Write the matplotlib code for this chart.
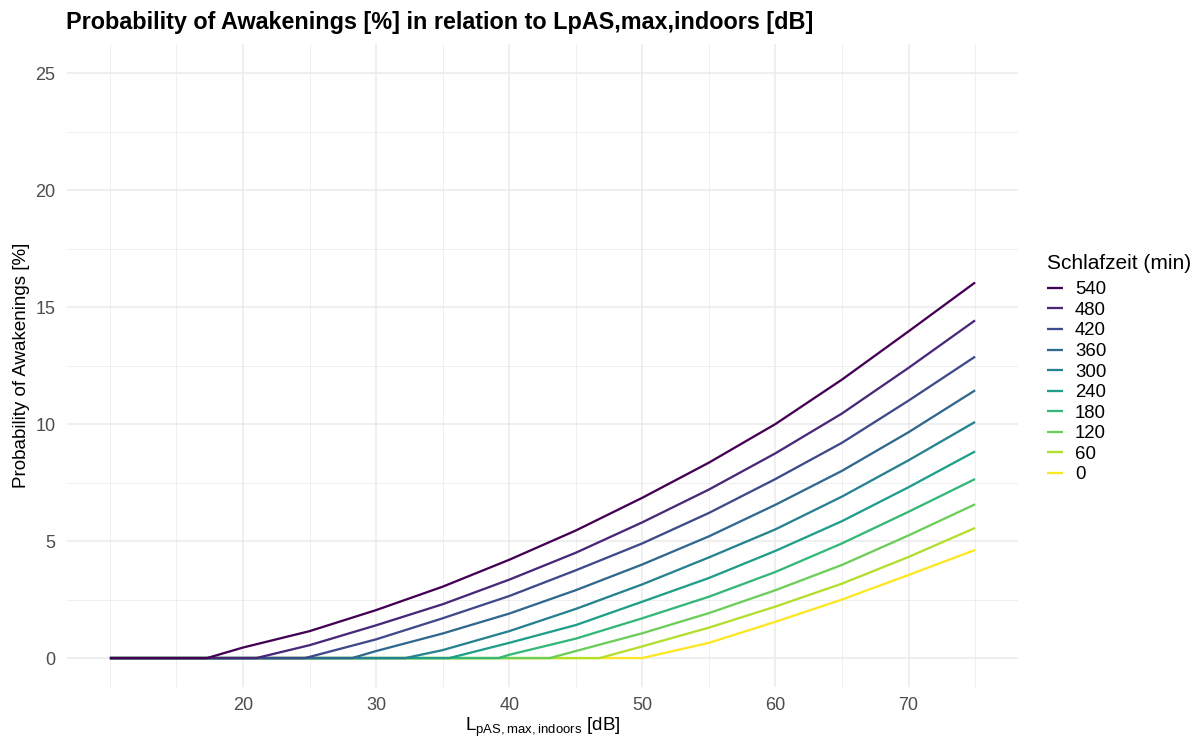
import matplotlib
matplotlib.use("Agg")
import matplotlib.pyplot as plt

plt.rcParams["font.family"] = ["Liberation Sans", "DejaVu Sans"]
plt.rcParams["mathtext.fontset"] = "custom"
plt.rcParams["mathtext.rm"] = "Liberation Sans"

# Sound level grid (dB) shared by all curves
level_db = [10, 15, 20, 25, 30, 35, 40, 45, 50, 55, 60, 65, 70, 75]

# Sleep time groups (minutes), top of legend first
sleep_min = [540, 480, 420, 360, 300, 240, 180, 120, 60, 0]

# Level where each curve leaves zero
onset_db = [17.3, 21.0, 24.65, 28.2, 32.2, 35.5, 39.2, 43.05, 46.8, 50.0]

# Awakening probability (%) at each grid level (0 below onset)
p_540 = [0, 0, 0.45, 1.15, 2.05, 3.05, 4.2, 5.45, 6.85, 8.35, 10.0, 11.9, 13.96, 16.05]
p_480 = [0, 0, 0, 0.55, 1.4, 2.3, 3.35, 4.5, 5.8, 7.2, 8.75, 10.45, 12.4, 14.43]
p_420 = [0, 0, 0, 0.05, 0.8, 1.7, 2.65, 3.75, 4.9, 6.2, 7.65, 9.2, 11.0, 12.88]
p_360 = [0, 0, 0, 0, 0.3, 1.05, 1.9, 2.9, 4.0, 5.2, 6.55, 8.0, 9.65, 11.44]
p_300 = [0, 0, 0, 0, 0, 0.34, 1.15, 2.1, 3.15, 4.3, 5.5, 6.9, 8.45, 10.09]
p_240 = [0, 0, 0, 0, 0, 0, 0.65, 1.41, 2.41, 3.42, 4.58, 5.85, 7.3, 8.83]
p_180 = [0, 0, 0, 0, 0, 0, 0.14, 0.83, 1.70, 2.62, 3.68, 4.9, 6.25, 7.65]
p_120 = [0, 0, 0, 0, 0, 0, 0, 0.3, 1.06, 1.92, 2.9, 3.98, 5.24, 6.57]
p_60 = [0, 0, 0, 0, 0, 0, 0, 0, 0.5, 1.3, 2.2, 3.18, 4.32, 5.56]
p_0 = [0, 0, 0, 0, 0, 0, 0, 0, 0, 0.65, 1.55, 2.5, 3.55, 4.62]

curves = [p_540, p_480, p_420, p_360, p_300, p_240, p_180, p_120, p_60, p_0]

colors = ["#440154", "#482878", "#3E4A89", "#31688E", "#26828E",
          "#1F9E89", "#35B779", "#6DCD59", "#B4DE2C", "#FDE725"]

fig = plt.figure(figsize=(12.01, 7.42), dpi=100)
ax = fig.add_axes([0.0555, 0.0737, 0.7924, 0.8673])

# Draw from 0 min upward so darker curves sit on top at the zero baseline
for name, onset, vals, col in reversed(list(zip(sleep_min, onset_db, curves, colors))):
    xs = [level_db[0], onset]
    ys = [0.0, 0.0]
    for x, y in zip(level_db, vals):
        if x > onset:
            xs.append(x)
            ys.append(y)
    ax.plot(xs, ys, color=col, lw=1.65, label=str(name), solid_capstyle="butt")

ax.set_xlim(6.75, 78.25)
ax.set_ylim(-1.25, 26.25)
ax.set_xticks([20, 30, 40, 50, 60, 70])
ax.set_xticks([10, 15, 25, 35, 45, 55, 65, 75], minor=True)
ax.set_yticks([0, 5, 10, 15, 20, 25])
ax.set_yticks([2.5, 7.5, 12.5, 17.5, 22.5], minor=True)

ax.grid(which="major", color="#EBEBEB", lw=1.1)
ax.grid(which="minor", color="#EBEBEB", lw=0.55)
ax.set_axisbelow(True)
for s in ax.spines.values():
    s.set_visible(False)
ax.tick_params(which="both", length=0)
ax.tick_params(axis="x", labelsize=13, labelcolor="#4D4D4D", pad=7)
ax.tick_params(axis="y", labelsize=13, labelcolor="#4D4D4D", pad=8)

ax.set_xlabel(r"$\mathregular{L_{pAS,max,indoors}}$ [dB]", fontsize=13.5, color="black", labelpad=1)
ax.set_ylabel("Probability of Awakenings [%]", fontsize=13.5, color="black", labelpad=4)

fig.text(66 / 1201, 1 - 22 / 742, "Probability of Awakenings [%] in relation to LpAS,max,indoors [dB]",
         fontsize=16.8, fontweight="bold", ha="left", va="center")

handles, labels = ax.get_legend_handles_labels()
order = list(reversed(range(len(handles))))
leg = fig.legend([handles[i] for i in order], [labels[i] for i in order],
                 title="Schlafzeit (min)", loc="upper left",
                 bbox_to_anchor=(1047 / 1201, 1 - 254 / 742),
                 frameon=False, fontsize=13.4, title_fontsize=15,
                 handlelength=0.86, handletextpad=0.65, labelspacing=0.19,
                 borderaxespad=0, borderpad=0)
leg._legend_box.align = "left"
leg._legend_box.sep = 6

fig.savefig("out.png", dpi=100, facecolor="white")
